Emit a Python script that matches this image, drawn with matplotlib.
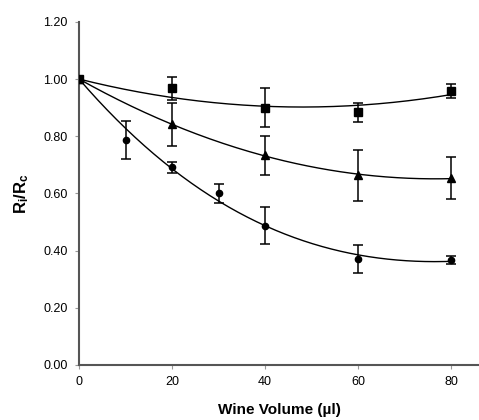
import numpy as np
import matplotlib
matplotlib.use("Agg")
import matplotlib.pyplot as plt

plt.rcParams["font.family"] = ["Liberation Sans", "DejaVu Sans"]
plt.rcParams["mathtext.fontset"] = "custom"
plt.rcParams["mathtext.rm"] = "Liberation Sans"
plt.rcParams["mathtext.bf"] = "Liberation Sans:bold"

# squares
x_sq = [0, 20, 40, 60, 80]
y_sq = [1.00, 0.967, 0.900, 0.883, 0.959]
e_sq = [0.0, 0.04, 0.067, 0.034, 0.025]

# triangles
x_tr = [0, 20, 40, 60, 80]
y_tr = [1.00, 0.842, 0.733, 0.664, 0.653]
e_tr = [0.0, 0.075, 0.068, 0.089, 0.074]

# circles
x_ci = [0, 10, 20, 30, 40, 60, 80]
y_ci = [1.00, 0.787, 0.691, 0.600, 0.487, 0.371, 0.367]
e_ci = [0.0, 0.066, 0.02, 0.033, 0.065, 0.05, 0.014]

fig = plt.figure(figsize=(4.79, 4.20), dpi=100)
ax = fig.add_axes([0.165, 0.131, 0.835, 0.817])

series = [
    (x_sq, y_sq, e_sq, "s", 6, 2),
    (x_tr, y_tr, e_tr, "^", 5.5, 2),
    (x_ci, y_ci, e_ci, "o", 4.5, 3),
]

xs = np.linspace(0, 80, 200)
for x, y, e, m, ms, deg in series:
    ax.errorbar(x, y, yerr=e, fmt=m, color="black", ms=ms, elinewidth=1.1,
                capsize=3.5, capthick=1.1, zorder=3)
    # trend line pinned at the control point (0, 1)
    w = [50.0] + [1.0] * (len(x) - 1)
    coef = np.polyfit(x, y, deg, w=w)
    ax.plot(xs, np.polyval(coef, xs), color="black", lw=1.0, zorder=2)

ax.set_xlim(0, 86)
ax.set_ylim(0, 1.2)
ax.set_xticks([0, 20, 40, 60, 80])
ax.set_yticks(np.arange(0, 1.21, 0.2))
ax.set_yticklabels(["%.2f" % v for v in np.arange(0, 1.21, 0.2)])

for s in ["top", "right"]:
    ax.spines[s].set_visible(False)
for s in ["left", "bottom"]:
    ax.spines[s].set_color("#555555")
    ax.spines[s].set_linewidth(1.5)
ax.tick_params(length=3, color="#999999", labelsize=9, pad=5)

ax.set_xlabel("Wine Volume (µl)", fontsize=11, fontweight="bold", labelpad=11)
ax.set_ylabel(r"$\mathbf{R_i/R_c}$", fontsize=12, labelpad=9)

fig.savefig("out.png", dpi=100)
